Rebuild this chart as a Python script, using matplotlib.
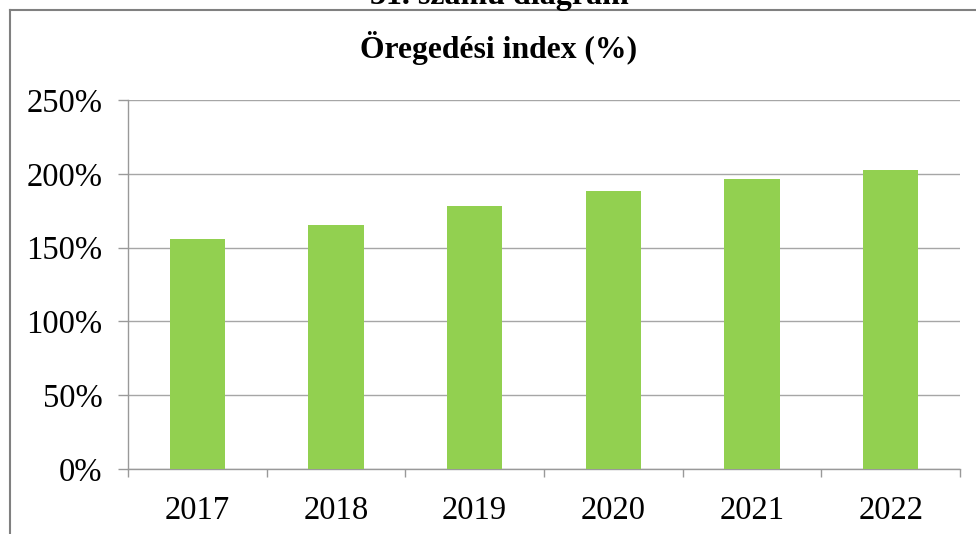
import matplotlib
matplotlib.use("Agg")
import matplotlib.pyplot as plt
from matplotlib.lines import Line2D
import numpy as np

years = ["2017", "2018", "2019", "2020", "2021", "2022"]
values = [155.6, 165.1, 178.2, 188.6, 196.3, 202.4]
yticks = [0, 50, 100, 150, 200, 250]
ytick_labels = ["0%", "50%", "100%", "150%", "200%", "250%"]
title = "Öregedési index (%)"
caption = "31. számú diagram"

W, H = 976, 534
fig = plt.figure(figsize=(W / 100, H / 100), dpi=100)
plt.rcParams['font.family'] = ['Liberation Serif', 'DejaVu Serif']

# outer frame (left and top lines)
fig.add_artist(Line2D([9.5 / W, 9.5 / W], [0, 1 - 10 / H], transform=fig.transFigure,
                      color="#808080", lw=1.5))
fig.add_artist(Line2D([9.5 / W, 1], [1 - 10 / H, 1 - 10 / H], transform=fig.transFigure,
                      color="#808080", lw=1.5))

fig.text(499 / W, 1 - 4 / H, caption, ha="center", va="baseline",
         fontsize=23, fontweight="bold")
fig.text(499 / W, 1 - 58 / H, title, ha="center", va="baseline",
         fontsize=22.8, fontweight="bold")

left, right, top, bottom = 128, 960, 100, 469
ax = fig.add_axes([left / W, (H - bottom) / H, (right - left) / W, (bottom - top) / H])

x = np.arange(len(years))
ax.bar(x, values, width=0.4, color="#92D050", zorder=3)
ax.set_xlim(-0.5, len(years) - 0.5)
ax.set_ylim(0, 250)

ax.set_yticks(yticks)
ax.set_yticklabels(ytick_labels)
ax.set_xticks(x)
ax.set_xticklabels(years)
ax.set_xticks(np.arange(-0.5, len(years), 1), minor=True)

for s in ["top", "right"]:
    ax.spines[s].set_visible(False)
for s in ["left", "bottom"]:
    ax.spines[s].set_color("#999999")
    ax.spines[s].set_linewidth(1.0)

ax.yaxis.grid(True, color="#A6A6A6", lw=1.0, zorder=0)
ax.set_axisbelow(True)

ax.tick_params(axis="y", length=7.2, width=1.0, color="#999999", pad=11, labelsize=23.5)
ax.tick_params(axis="x", which="major", length=0, pad=19, labelsize=23.5)
ax.tick_params(axis="x", which="minor", length=6, width=1.0, color="#999999")

fig.savefig("out.png", dpi=100)
